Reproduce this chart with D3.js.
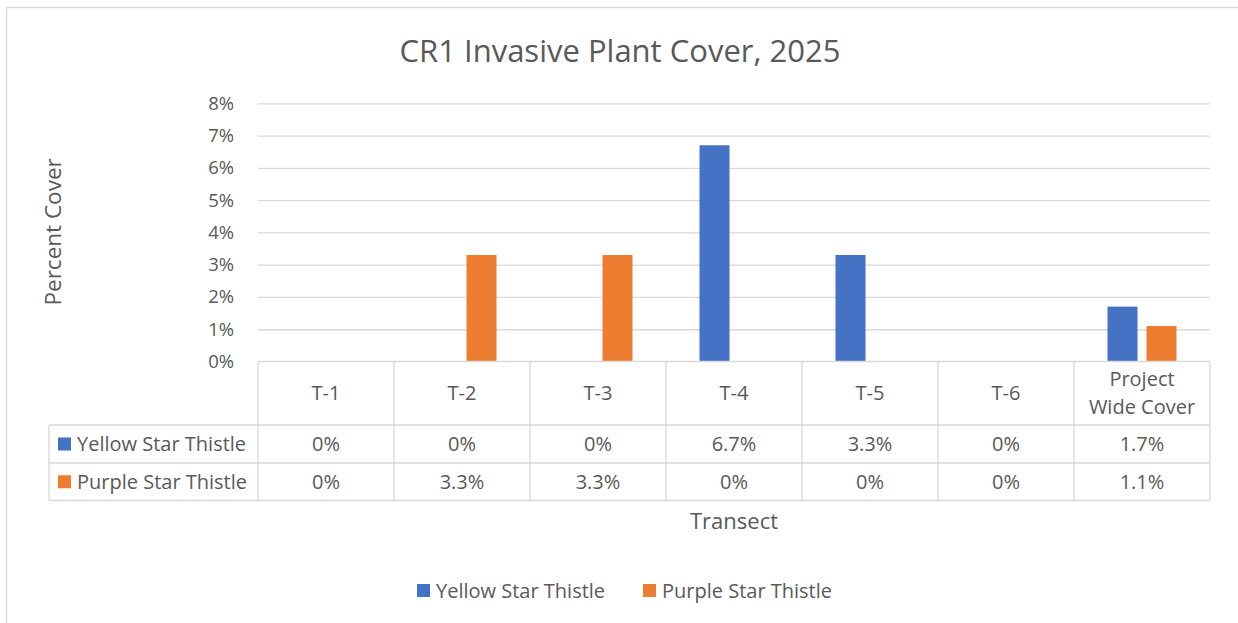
<!DOCTYPE html>
<html>
<head>
<meta charset="utf-8">
<script src="https://cdn.jsdelivr.net/npm/d3@7"></script>
<style>
  body { margin: 0; background: #fff; }
  text { font-family: "Open Sans", "Noto Sans", sans-serif; fill: #595959; }
</style>
</head>
<body>
<script>
// chart data
var categories = ["T-1", "T-2", "T-3", "T-4", "T-5", "T-6", "Project Wide Cover"];
var seriesNames = ["Yellow Star Thistle", "Purple Star Thistle"];
var yellowStar = [0, 0, 0, 6.7, 3.3, 0, 1.7];
var purpleStar = [0, 3.3, 3.3, 0, 0, 0, 1.1];
var yTicks = [0, 1, 2, 3, 4, 5, 6, 7, 8];
var colors = ["#4472C4", "#ED7D31"];

var seriesValues = [yellowStar, purpleStar];

var W = 1238, H = 623;
var margin = { top: 103.3, left: 258, right: 28 },
  width = W - margin.left - margin.right,
  height = 258.2;
var rowH = [63.5, 38, 37.5]; // header row, then one row per series
var tableLeft = 49;
var cellFont = "20px";

var svg = d3.select("body").append("svg")
    .attr("width", W)
    .attr("height", H);

// chart border
svg.append("rect")
    .attr("x", 6.5).attr("y", 7.5)
    .attr("width", W).attr("height", H)
    .attr("fill", "none")
    .attr("stroke", "#D9D9D9")
    .attr("stroke-width", 1.5);

// title
svg.append("text")
    .attr("x", 620).attr("y", 62)
    .attr("text-anchor", "middle")
    .style("font-size", "31px")
    .text("CR1 Invasive Plant Cover, 2025");

var g = svg.append("g")
    .attr("transform", "translate(" + margin.left + "," + margin.top + ")");

var xCol = d3.scaleBand()
  .domain(categories)
  .range([0, width]);
var xScale = xCol.copy()
  .paddingInner(0.4926)
  .paddingOuter(0.2463);
var xSub = d3.scaleBand()
  .domain(seriesNames)
  .range([0, xScale.bandwidth()])
  .paddingInner(0.23);
var yScale = d3.scaleLinear()
  .domain([0, 8])
  .range([height, 0]);

// gridlines + y tick labels
var yAxis = d3.axisLeft(yScale)
  .tickValues(yTicks)
  .tickFormat(function(d) { return d + "%"; })
  .tickSize(-width)
  .tickPadding(24);

var yg = g.append("g").attr("class", "y axis").call(yAxis);
yg.select(".domain").remove();
yg.selectAll(".tick line").attr("stroke", "#D9D9D9").attr("stroke-width", 1.3);
yg.selectAll(".tick text")
    .style("font-size", "18.5px")
    .style("fill", "#595959");
yg.selectAll(".tick").filter(function(d) { return d === 0; }).select("line").remove();

// y axis title
g.append("text")
    .attr("transform", "translate(-205," + (height / 2 - 0.5) + ") rotate(-90)")
    .attr("text-anchor", "middle")
    .attr("dy", "0.35em")
    .style("font-size", "22.5px")
    .text("Percent Cover");

// bars
seriesNames.forEach(function(name, si) {
  g.selectAll(".bar-" + si)
    .data(categories)
    .enter()
    .append("rect")
    .attr("class", "bar-" + si)
    .attr("x", function(d) { return xScale(d) + xSub(name); })
    .attr("y", function(d, i) { return yScale(seriesValues[si][i]); })
    .attr("width", xSub.bandwidth())
    .attr("height", function(d, i) { return height - yScale(seriesValues[si][i]); })
    .style("fill", colors[si]);
});

// data table
var tg = g.append("g").attr("transform", "translate(0," + height + ")");
var lineColor = "#D9D9D9";
var y1 = rowH[0], y2 = rowH[0] + rowH[1], y3 = rowH[0] + rowH[1] + rowH[2];
var tl = tableLeft - margin.left;

function hline(x1, x2, y) {
  tg.append("line").attr("x1", x1).attr("x2", x2).attr("y1", y).attr("y2", y)
    .attr("stroke", lineColor).attr("stroke-width", 1.3);
}
function vline(x, ya, yb) {
  tg.append("line").attr("x1", x).attr("x2", x).attr("y1", ya).attr("y2", yb)
    .attr("stroke", lineColor).attr("stroke-width", 1.3);
}
hline(0, width, 0);
hline(tl, width, y1);
hline(tl, width, y2);
hline(tl, width, y3);
vline(tl, y1, y3);
categories.forEach(function(c) { vline(xCol(c), 0, y3); });
vline(width, 0, y3);

// header labels, long ones split over two lines
var fmt = function(v) { return v === 0 ? "0%" : v.toFixed(1) + "%"; };
categories.forEach(function(c) {
  var words = c.split(" ");
  var lines = words.length > 2 ? [words[0], words.slice(1).join(" ")] : [c];
  var cx = xCol(c) + xCol.bandwidth() / 2;
  var t = tg.append("text")
      .attr("text-anchor", "middle")
      .style("font-size", cellFont);
  lines.forEach(function(l, li) {
    t.append("tspan")
      .attr("x", cx)
      .attr("y", rowH[0] / 2 + (li - (lines.length - 1) / 2) * 28)
      .attr("dy", "0.35em")
      .text(l);
  });
});

// value rows
seriesNames.forEach(function(name, si) {
  var rowTop = si === 0 ? y1 : y2;
  var rh = rowH[si + 1];
  tg.append("rect")
    .attr("x", tl + 9).attr("y", rowTop + rh / 2 - 6.5)
    .attr("width", 13).attr("height", 13)
    .style("fill", colors[si]);
  tg.append("text")
    .attr("x", tl + 28).attr("y", rowTop + rh / 2)
    .attr("dy", "0.35em")
    .style("font-size", cellFont)
    .text(name);
  categories.forEach(function(c, i) {
    tg.append("text")
      .attr("x", xCol(c) + xCol.bandwidth() / 2)
      .attr("y", rowTop + rh / 2)
      .attr("dy", "0.35em")
      .attr("text-anchor", "middle")
      .style("font-size", cellFont)
      .text(fmt(seriesValues[si][i]));
  });
});

// x axis title
svg.append("text")
    .attr("x", margin.left + width / 2).attr("y", 529)
    .attr("text-anchor", "middle")
    .style("font-size", "22px")
    .text("Transect");

// legend
var legendX = [417, 643];
seriesNames.forEach(function(name, si) {
  svg.append("rect")
    .attr("x", legendX[si]).attr("y", 584)
    .attr("width", 13).attr("height", 13)
    .style("fill", colors[si]);
  svg.append("text")
    .attr("x", legendX[si] + 19).attr("y", 590.5)
    .attr("dy", "0.35em")
    .style("font-size", cellFont)
    .text(name);
});
</script>
</body>
</html>
